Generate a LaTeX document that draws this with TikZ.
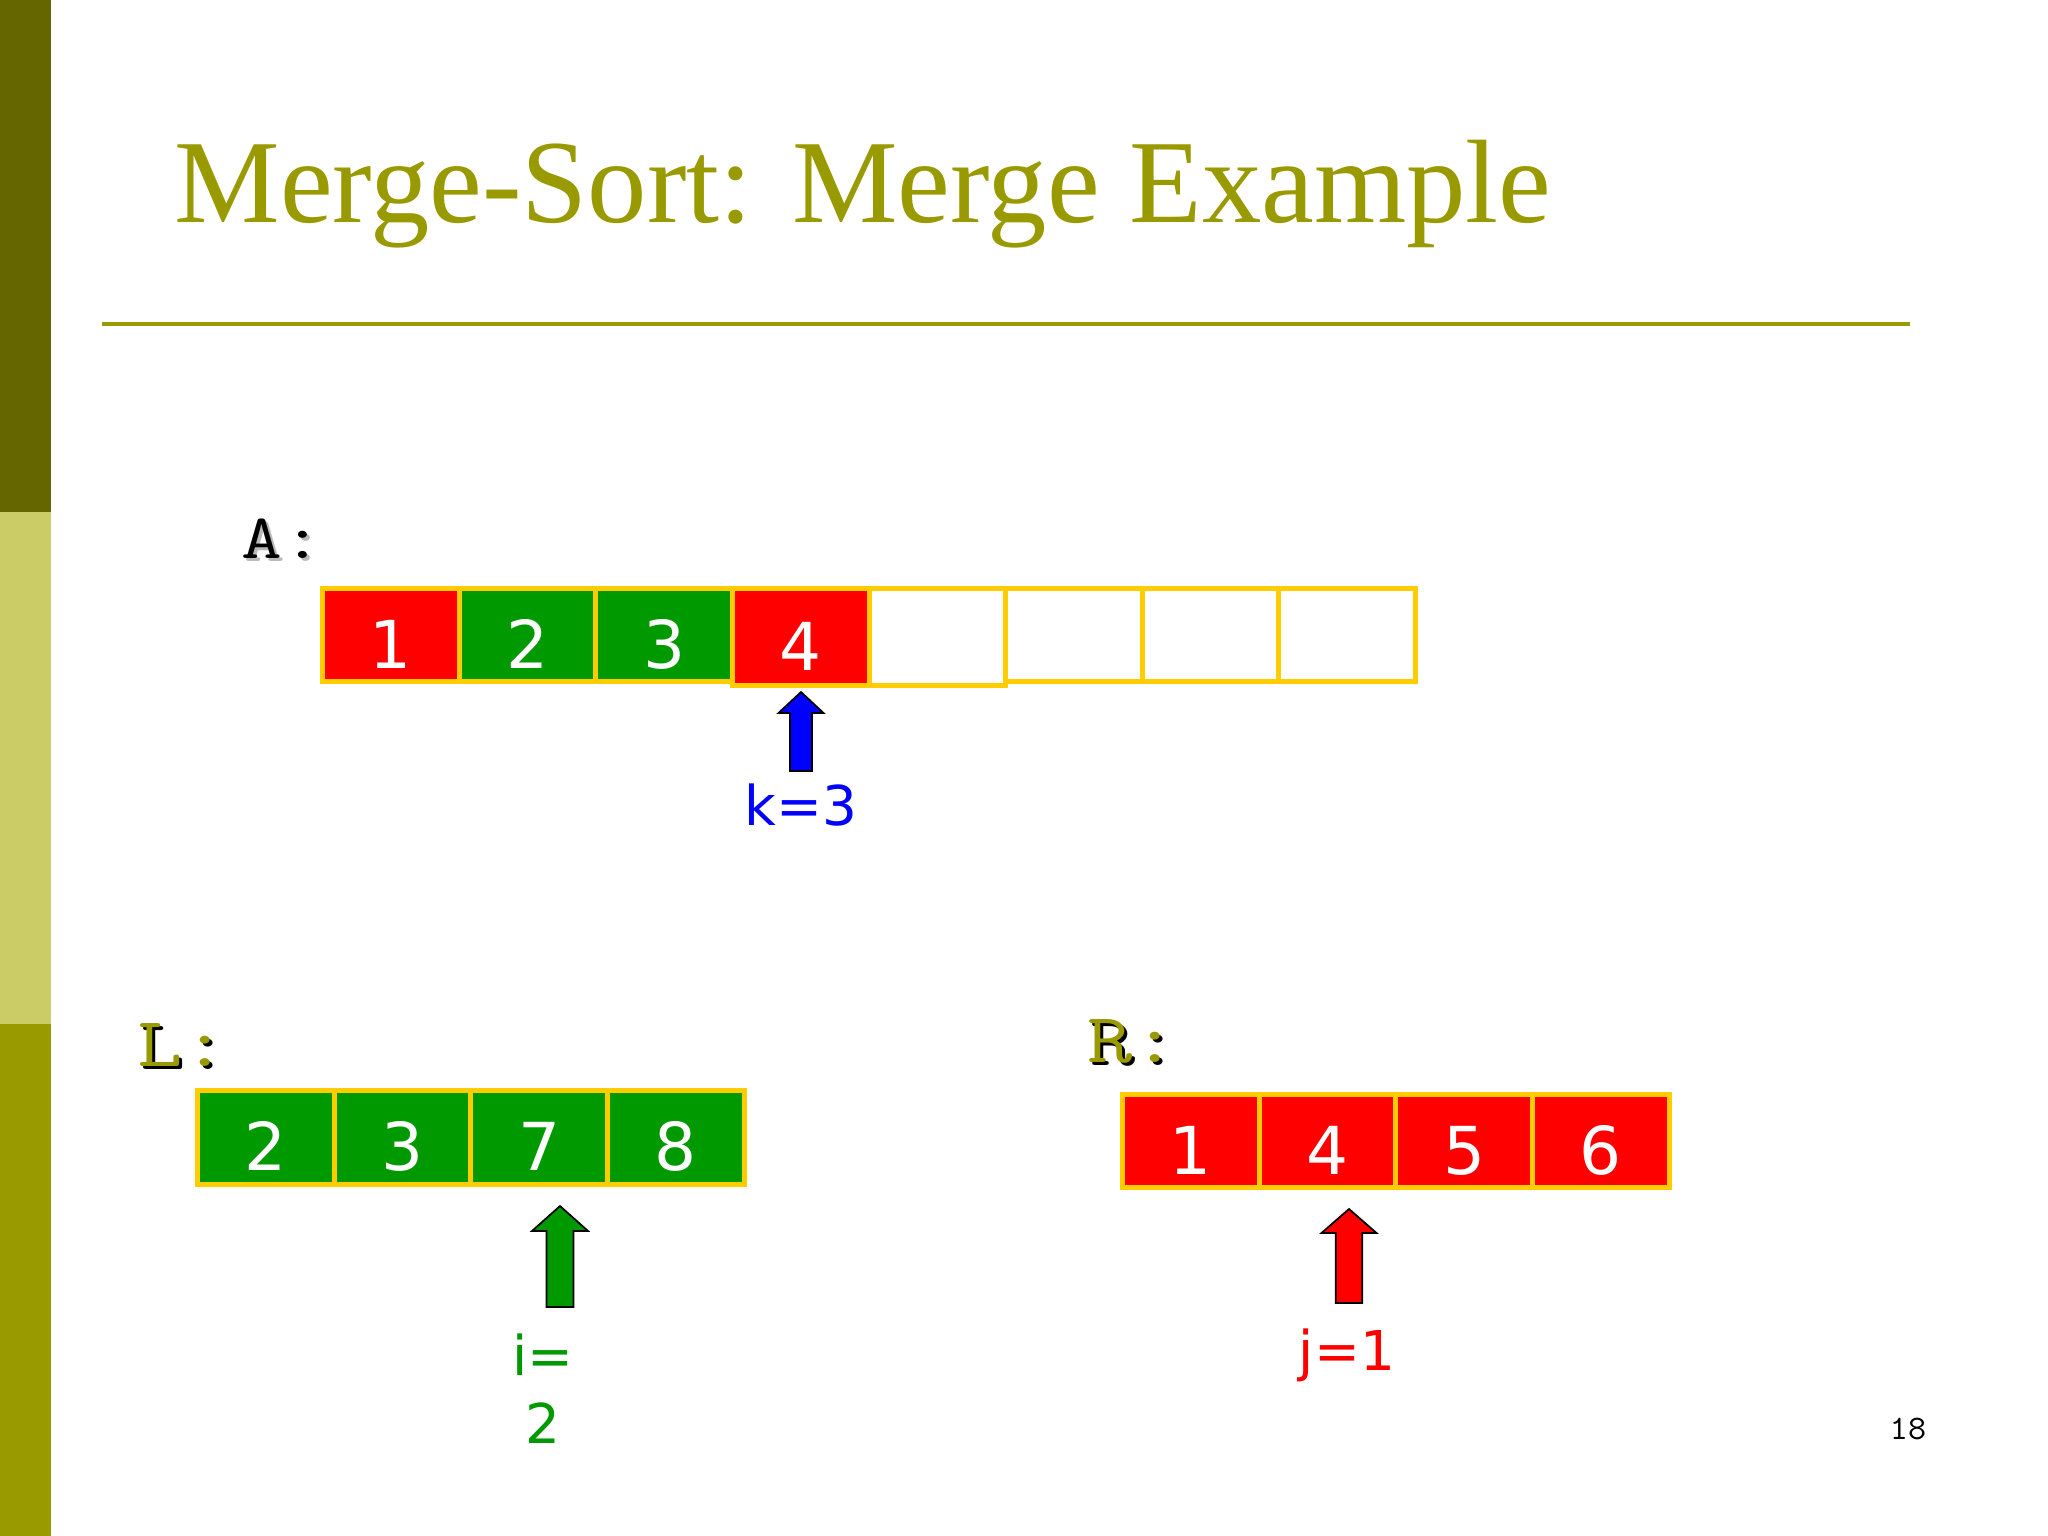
\documentclass[tikz,border=0pt]{standalone}
\usepackage{fontspec}
\usepackage{xcolor}
\usepackage{tikz}
\usetikzlibrary{positioning}
\newfontfamily\titlefont{Liberation Serif}
\newfontfamily\numfont{DejaVu Sans}
\definecolor{barhi}{HTML}{666600}
\definecolor{barmid}{HTML}{CCCC66}
\definecolor{barlo}{HTML}{999900}
\definecolor{olivetxt}{HTML}{999900}
\definecolor{cellyellow}{HTML}{FFCC00}
\definecolor{cellgreen}{HTML}{009900}
\definecolor{cellred}{HTML}{FF0000}
\definecolor{ptrblue}{HTML}{0000FF}

\begin{document}
\begin{tikzpicture}[x=0.01cm, y=-0.01cm,
  cell/.style={draw=cellyellow, line width=0.05cm, minimum width=1.365cm, minimum height=0.93cm, inner sep=0pt, outer sep=0pt, text=white, text height=0.66cm, text depth=0pt, font=\numfont\fontsize{18.8}{20}\selectfont},
  ptr/.style={draw=black, line width=0.5pt},
  idx/.style={anchor=base, inner sep=0pt, font=\numfont\fontsize{15.6}{18}\selectfont},
  arrname/.style={anchor=base west, inner sep=0pt, font=\ttfamily\fontsize{18}{20}\selectfont},
  subname/.style={arrname, font=\ttfamily\fontsize{20}{22}\selectfont}]
\useasboundingbox (0,0) rectangle (2048,1536);
\fill[white] (0,0) rectangle (2048,1536);
\fill[barhi] (0,0) rectangle (51,512);
\fill[barmid] (0,512) rectangle (51,1024);
\fill[barlo] (0,1024) rectangle (51,1536);
\node[anchor=base west, inner sep=0pt, text=olivetxt, font=\titlefont\fontsize{33.75}{40}\selectfont] (title) at (174,222) {Merge-Sort: Merge Example};
\draw[olivetxt, line width=0.04cm] (102,324) -- (1910,324);

\node[arrname, text=gray!55] (ashadow) at (244,561) {\scalebox{1.25}[1]{A:}};
\node[arrname] (aname) at (241,558) {\scalebox{1.25}[1]{A:}};
\node[cell, fill=cellred] (a1) at (391,635) {1};
\node[cell, fill=cellgreen, right=0pt of a1] (a2) {2};
\node[cell, fill=cellgreen, right=0pt of a2] (a3) {3};
\node[cell, fill=cellred, minimum height=0.97cm, right=0pt of a3, yshift=-0.02cm] (a4) {4};
\node[cell, fill=white, minimum height=0.97cm, right=0pt of a4] (a5) {};
\node[cell, fill=white, right=0pt of a5, yshift=0.02cm] (a6) {};
\node[cell, fill=white, right=0pt of a6] (a7) {};
\node[cell, fill=white, right=0pt of a7] (a8) {};
\coordinate (ktip) at (801,692);
\draw[ptr, fill=ptrblue] (ktip) -- ++(22.5,21) -- ++(-11.5,0) -- ++(0,58) -- ++(-22,0) -- ++(0,-58) -- ++(-11.5,0) -- cycle;
\node[idx, text=ptrblue] (klabel) at (801,825) {k=3};

\node[subname, text=black] (lshadow) at (140,1069) {\scalebox{1.25}[1]{L:}};
\node[subname, text=olivetxt] (lname) at (137,1066) {\scalebox{1.25}[1]{L:}};
\node[cell, fill=cellgreen] (l1) at (266,1137.5) {2};
\node[cell, fill=cellgreen, right=0pt of l1] (l2) {3};
\node[cell, fill=cellgreen, right=0pt of l2] (l3) {7};
\node[cell, fill=cellgreen, right=0pt of l3] (l4) {8};
\coordinate (itip) at (560,1206);
\draw[ptr, fill=cellgreen] (itip) -- ++(28,25) -- ++(-14.5,0) -- ++(0,76) -- ++(-27,0) -- ++(0,-76) -- ++(-14.5,0) -- cycle;
\node[idx, text=cellgreen] (ilabel) at (543,1375) {i=};
\node[idx, text=cellgreen] (ivalue) at (543,1443) {2};

\node[subname, text=black] (rshadow) at (1090,1065) {\scalebox{1.25}[1]{R:}};
\node[subname, text=olivetxt] (rname) at (1087,1062) {\scalebox{1.25}[1]{R:}};
\node[cell, fill=cellred] (r1) at (1191,1141) {1};
\node[cell, fill=cellred, right=0pt of r1] (r2) {4};
\node[cell, fill=cellred, right=0pt of r2] (r3) {5};
\node[cell, fill=cellred, right=0pt of r3] (r4) {6};
\coordinate (jtip) at (1349,1209);
\draw[ptr, fill=cellred] (jtip) -- ++(27.5,24) -- ++(-14.25,0) -- ++(0,70) -- ++(-26.5,0) -- ++(0,-70) -- ++(-14.25,0) -- cycle;
\node[idx, text=cellred] (jlabel) at (1347,1370) {j=1};

\node[anchor=base, inner sep=0pt, font=\ttfamily\fontsize{9.8}{12}\selectfont] (pagenum) at (1908,1439) {18};
\end{tikzpicture}
\end{document}
